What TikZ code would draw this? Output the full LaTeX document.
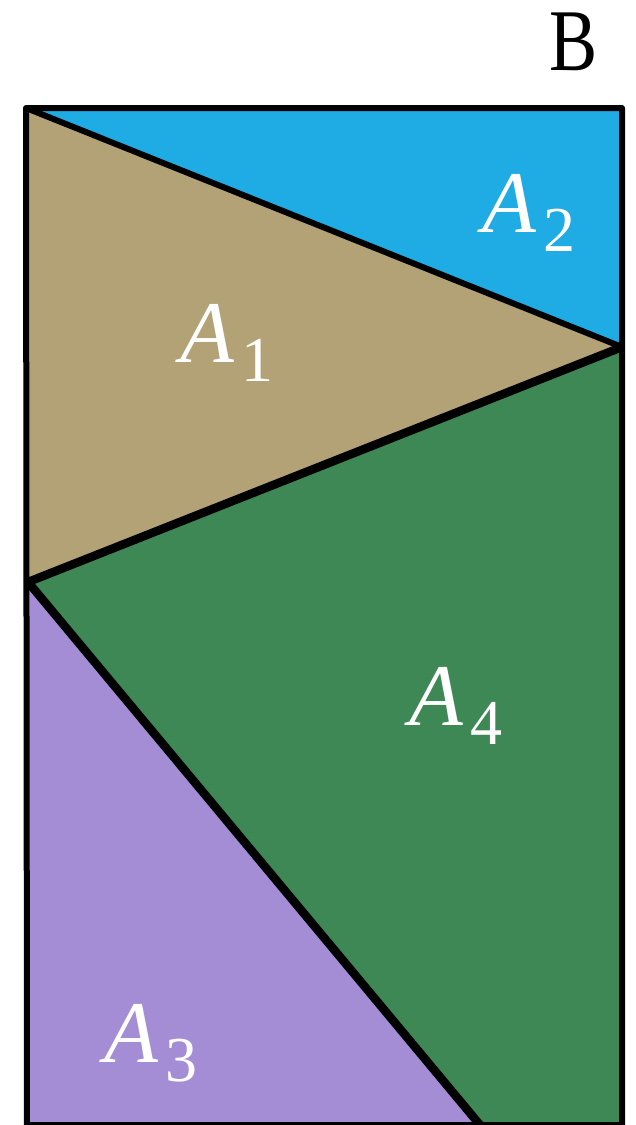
\documentclass[tikz,border=0pt]{standalone}
\usepackage{fontspec}
\setmainfont{Liberation Serif}
\usepackage{xcolor}
\usetikzlibrary{calc}

\definecolor{areablue}{HTML}{1FABE3}
\definecolor{areatan}{HTML}{B3A276}
\definecolor{areagreen}{HTML}{3E8856}
\definecolor{areapurple}{HTML}{A48DD4}

\newcommand{\arealabel}[1]{{\fontsize{88}{88}\selectfont\itshape A}\hspace{8pt}\raisebox{-19pt}{\fontsize{64}{64}\selectfont #1}}

\tikzset{
    edge/.style={line width=6pt, line join=round},
    cut/.style={line width=8.5pt, line join=round},
    lab/.style={anchor=base west, inner sep=0pt, text=white}
}

\begin{document}
\begin{tikzpicture}[x=1pt, y=-1pt]
                \useasboundingbox (0,0) rectangle (636,1125);

                % corners and cut points
                \coordinate (tl) at (26,108);
                \coordinate (tr) at (622,108);
                \coordinate (rm) at (622,347);
                \coordinate (lm) at (28,582);
                \coordinate (bm) at (480,1125);
                \coordinate (br) at (622,1125);
                \coordinate (bl) at (27,1125);

                % areas
                \fill[areablue] (tl) -- (tr) -- (rm) -- cycle;
                \fill[areatan] (tl) -- (rm) -- (lm) -- cycle;
                \fill[areagreen] (lm) -- (rm) -- (br) -- (bm) -- cycle;
                \fill[areapurple] (lm) -- (bm) -- (bl) -- cycle;

                % outline
                \draw[edge] (bl) -- (tl) -- (tr) -- (br) -- cycle;
                \draw[edge] (tl) -- (rm);
                \draw[cut] (rm) -- (lm) -- (bm);

                % labels
                \node[lab] (a1) at (180,362) {\arealabel{1}};
                \node[lab] (a2) at (482,232) {\arealabel{2}};
                \node[lab] (a3) at (104,1062) {\arealabel{3}};
                \node[lab] (a4) at (409,725) {\arealabel{4}};
                \node[anchor=base west, inner sep=0pt, xscale=0.82] (b) at (549,70) {\fontsize{88}{88}\selectfont B};
            \end{tikzpicture}
\end{document}
